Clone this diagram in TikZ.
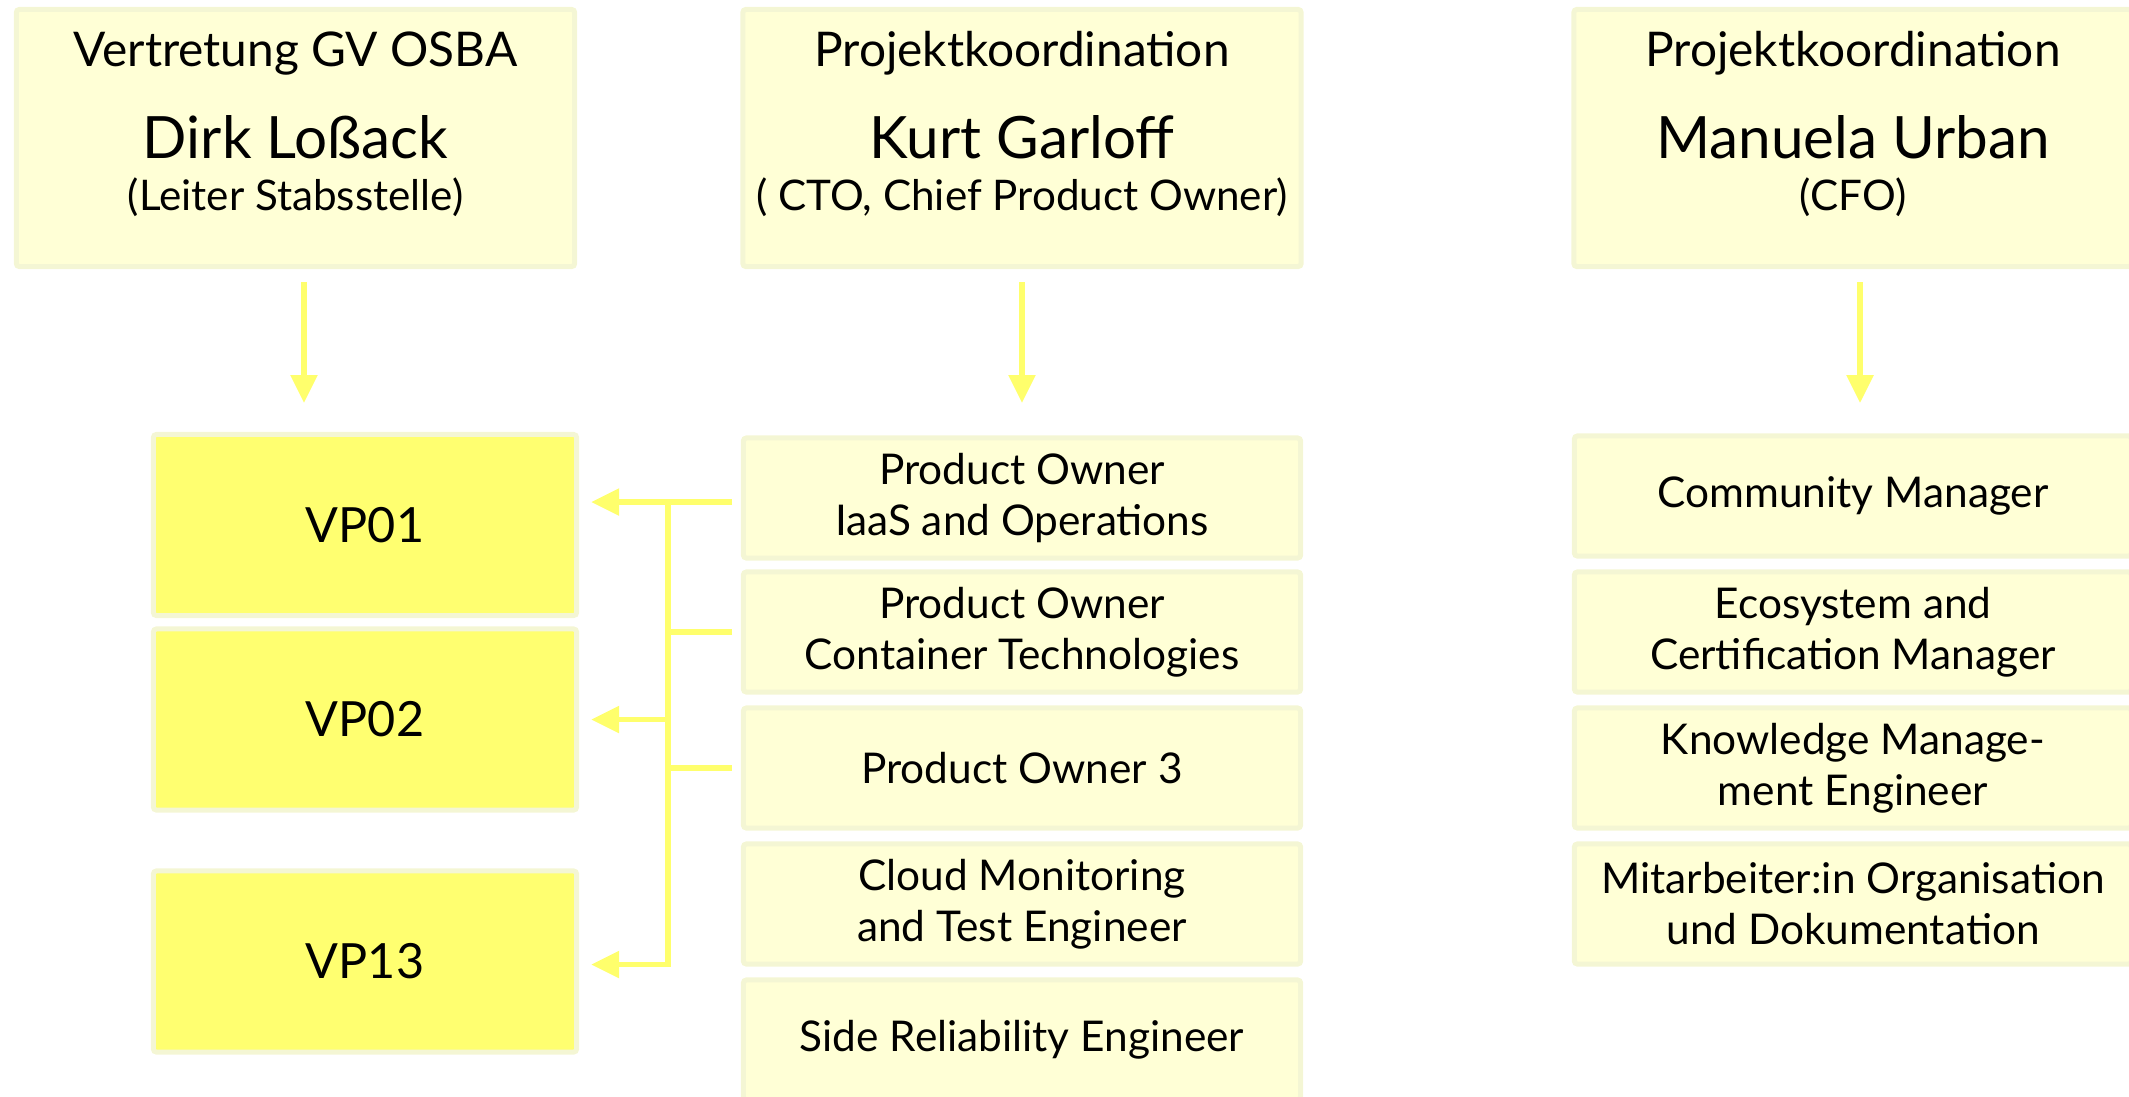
\documentclass[tikz,border=0pt]{standalone}
\usepackage{fontspec}
\setmainfont{Lato}
\usepackage{tikz}
\usetikzlibrary{arrows.meta}
\definecolor{boxfill}{RGB}{255,255,214}
\definecolor{boxline}{RGB}{244,246,212}
\definecolor{vpfill}{RGB}{255,255,112}
\definecolor{linkcol}{RGB}{255,255,108}
\newcommand{\titlesize}{\fontsize{13.6pt}{16pt}\selectfont}
\newcommand{\namesize}{\fontsize{16.6pt}{20pt}\selectfont}
\newcommand{\rolesize}{\fontsize{12pt}{14.4pt}\selectfont}
\newcommand{\bodysize}{\fontsize{12.05pt}{14.5pt}\selectfont}
\newcommand{\vpsize}{\fontsize{13.8pt}{16pt}\selectfont}

\begin{document}
\begin{tikzpicture}[x=.01cm, y=-.01cm,
    head/.style={draw=boxline, fill=boxfill, line width=.05cm, rounded corners=.03cm,
      minimum width=5.58cm, minimum height=2.57cm, inner sep=0pt},
    box/.style={draw=boxline, fill=boxfill, line width=.05cm, rounded corners=.03cm,
      minimum width=5.57cm, minimum height=1.2cm, inner sep=0pt, align=center, font=\bodysize},
    vp/.style={box, fill=vpfill, minimum width=4.23cm, minimum height=1.81cm, font=\vpsize},
    arr/.style={draw=linkcol, line width=.055cm, -{Triangle[width=.26cm,length=.28cm]}},
    link/.style={draw=linkcol, line width=.055cm}]
    \useasboundingbox (0,0) rectangle (2129,1096);

    % heads
        \node (lossack) at (295.5,138) [head] {};
        \node (garloff) at (1022,138) [head] {};
        \node (urban) at (1853,138) [head] {};

        \node (lossack-t) at (295.5,66) [anchor=base, font=\titlesize] {Vertretung GV OSBA};
        \node (lossack-n) at (295.5,158) [anchor=base, font=\namesize] {Dirk Loßack};
        \node (lossack-r) at (295.5,210) [anchor=base, font=\rolesize] {(Leiter Stabsstelle)};
        \node (garloff-t) at (1022,66) [anchor=base, font=\titlesize] {Projektkoordination};
        \node (garloff-n) at (1022,158) [anchor=base, font=\namesize] {Kurt Garloff};
        \node (garloff-r) at (1022,210) [anchor=base, font=\rolesize] {( CTO, Chief Product Owner)};
        \node (urban-t) at (1853,66) [anchor=base, font=\titlesize] {Projektkoordination};
        \node (urban-n) at (1853,158) [anchor=base, font=\namesize] {Manuela Urban};
        \node (urban-r) at (1853,210) [anchor=base, font=\rolesize] {(CFO)};

    % VP column
        \node (vp01) at (365,525) [vp] {VP01};
        \node (vp02) at (365,719.5) [vp] {VP02};
        \node (vp13) at (365,961.5) [vp] {VP13};

    % product column
        \node (po1) at (1022,498) [box] {Product Owner\\IaaS and Operations};
        \node (po2) at (1022,632) [box] {Product Owner\\Container Technologies};
        \node (po3) at (1022,768) [box] {Product Owner 3};
        \node (cmt) at (1022,904) [box] {Cloud Monitoring\\and Test Engineer};
        \node (sre) at (1022,1040) [box] {Side Reliability Engineer};

    % finance column
        \node (cm) at (1853,496) [box] {Community Manager};
        \node (eco) at (1853,632) [box] {Ecosystem and\\Certification Manager};
        \node (km) at (1853,768) [box] {Knowledge Manage-\\ment Engineer};
        \node (org) at (1853,904) [box] {Mitarbeiter:in Organisation\\und Dokumentation};

    % arrows
        \draw[arr] ([xshift=.085cm,yshift=-.13cm]lossack.south) -- ++(0,121);
        \draw[arr] ([yshift=-.13cm]garloff.south) -- ++(0,121);
        \draw[arr] ([xshift=.07cm,yshift=-.13cm]urban.south) -- ++(0,121);

        \coordinate (bus) at (668,502);
        \draw[arr] ([xshift=-.09cm]po1.west |- bus) -- ([xshift=.12cm]vp01.east |- bus);
        \draw[link] ([xshift=-.09cm]po2.west) -- (bus |- po2.west);
        \draw[link] ([xshift=-.09cm]po3.west) -- (bus |- po3.west);
        \draw[arr] (bus) |- ([xshift=.12cm,yshift=-.03cm]vp13.east);
        \draw[arr] (bus |- vp02.east) -- ([xshift=.12cm]vp02.east);

  \end{tikzpicture}
\end{document}
